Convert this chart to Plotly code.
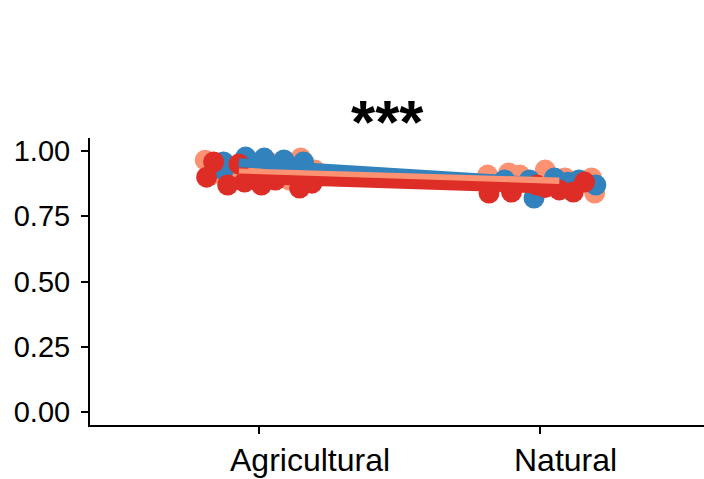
import plotly.graph_objects as go

categories = ["Agricultural", "Natural"]
cat_pos = [1, 2]
y_ticks = [0.0, 0.25, 0.5, 0.75, 1.0]
y_tick_labels = ["0.00", "0.25", "0.50", "0.75", "1.00"]

# jittered individual points: (category index, x offset, value)
salmon_cat = [1, 1, 1, 1, 1, 1, 1, 1, 2, 2, 2, 2, 2, 2, 2]
salmon_off = [-0.19, -0.17, 0.15, 0.20, 0.11, -0.03, 0.04, -0.09, -0.185, -0.07, 0.02, 0.196, 0.185, -0.11, 0.09]
salmon_val = [0.965, 0.908, 0.973, 0.927, 0.889, 0.935, 0.955, 0.915, 0.908, 0.908, 0.927, 0.839, 0.897, 0.916, 0.897]

blue_cat = [1, 1, 1, 1, 1, 1, 1, 2, 2, 2, 2, 2, 2, 2]
blue_off = [-0.125, -0.125, -0.046, 0.02, 0.09, 0.16, 0.06, -0.125, -0.036, -0.02, 0.053, 0.14, 0.2, 0.10]
blue_val = [0.958, 0.927, 0.977, 0.973, 0.966, 0.958, 0.94, 0.889, 0.889, 0.820, 0.897, 0.889, 0.870, 0.88]

red_cat = [1, 1, 1, 1, 1, 1, 1, 1, 1, 2, 2, 2, 2, 2, 2, 2]
red_off = [-0.185, -0.16, -0.11, -0.05, 0.01, 0.06, 0.146, 0.19, -0.07, -0.18, -0.10, -0.01, 0.07, 0.12, 0.16, 0.02]
red_val = [0.900, 0.958, 0.870, 0.881, 0.870, 0.889, 0.858, 0.877, 0.950, 0.839, 0.843, 0.870, 0.851, 0.843, 0.881, 0.860]

# group means (connecting lines)
line_x = [0.93, 2.07]
blue_mean = [0.955, 0.878]
salmon_mean = [0.92, 0.885]
red_mean = [0.895, 0.855]

SALMON = "#FC9272"
BLUE = "#3182BD"
RED = "#DE2D26"
FONT = "Liberation Sans, Arial, sans-serif"

fig = go.Figure()

def pts(cats, offs, vals, color):
    fig.add_trace(go.Scatter(
        x=[c + o for c, o in zip(cats, offs)], y=vals, mode="markers",
        marker=dict(size=21, color=color, line=dict(width=0)),
        showlegend=False, hoverinfo="skip"))

pts(salmon_cat, salmon_off, salmon_val, SALMON)
pts(blue_cat, blue_off, blue_val, BLUE)
pts(red_cat, red_off, red_val, RED)

for mean, color, w in [(blue_mean, BLUE, 9), (salmon_mean, SALMON, 7), (red_mean, RED, 10)]:
    fig.add_trace(go.Scatter(x=line_x, y=mean, mode="lines",
                             line=dict(color=color, width=w),
                             showlegend=False, hoverinfo="skip"))

# significance label
fig.add_annotation(x=1.46, y=1.056, xref="x", yref="paper", text="<b>***</b>",
                   showarrow=False, yanchor="middle",
                   font=dict(size=62, color="black", family=FONT))

# x category labels (offset like the reference)
for pos, lab, shift in zip(cat_pos, categories, [-31, -28]):
    fig.add_annotation(x=pos, y=0, xref="x", yref="paper", text=lab,
                       showarrow=False, xanchor="left", yanchor="top",
                       xshift=shift, yshift=-15,
                       font=dict(size=32, color="black", family=FONT))

fig.update_layout(
    width=704, height=479,
    margin=dict(l=90, r=0, t=138, b=54),
    paper_bgcolor="white", plot_bgcolor="white",
    font=dict(family=FONT, size=28, color="black"),
    xaxis=dict(range=[0.4, 2.585], tickvals=cat_pos, ticktext=["", ""],
               showgrid=False, zeroline=False, showline=True, linecolor="black", linewidth=2,
               ticks="outside", ticklen=7, tickwidth=2, tickcolor="black"),
    yaxis=dict(range=[-0.05, 1.05], tickvals=y_ticks, ticktext=y_tick_labels,
               showgrid=False, zeroline=False, showline=True, linecolor="black", linewidth=2,
               ticks="outside", ticklen=7, tickwidth=2, tickcolor="black",
               ticklabelstandoff=5,
               tickfont=dict(size=29, color="black")),
)

fig.write_html("out.html")
